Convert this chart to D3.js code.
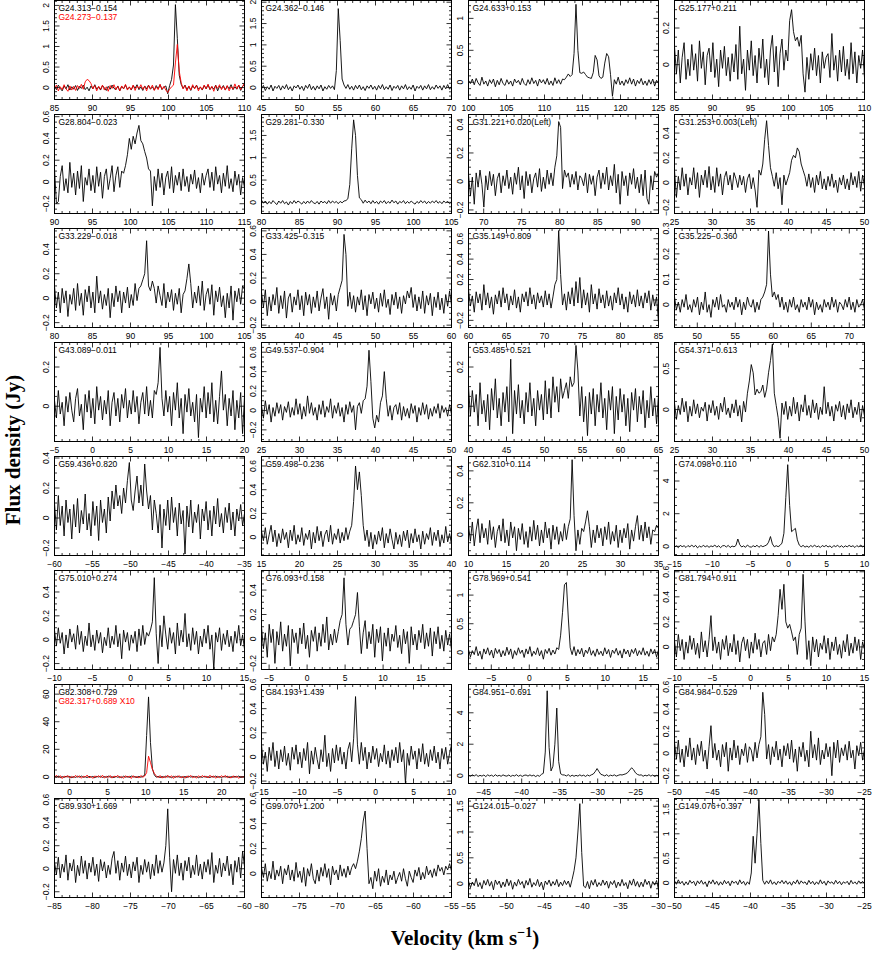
<!DOCTYPE html>
<html>
<head>
<meta charset="utf-8">
<script src="https://cdn.jsdelivr.net/npm/d3@7"></script>
<style>
body { margin: 0; background: #fff; }
svg text { font-family: "Liberation Sans", Arial, sans-serif; }
</style>
</head>
<body>
<script>
// source names, one per panel (row by row)
const names = [
    "G24.313−0.154", "G24.362−0.146", "G24.633+0.153", "G25.177+0.211",
    "G28.804−0.023", "G29.281−0.330", "G31.221+0.020(Left)", "G31.253+0.003(Left)",
    "G33.229−0.018", "G33.425−0.315", "G35.149+0.809", "G35.225−0.360",
    "G43.089−0.011", "G49.537−0.904", "G53.485+0.521", "G54.371−0.613",
    "G59.436+0.820", "G59.498−0.236", "G62.310+0.114", "G74.098+0.110",
    "G75.010+0.274", "G76.093+0.158", "G78.969+0.541", "G81.794+0.911",
    "G82.308+0.729", "G84.193+1.439", "G84.951−0.691", "G84.984−0.529",
    "G89.930+1.669", "G99.070+1.200", "G124.015−0.027", "G149.076+0.397"
];

// velocity range of each spectrum (km/s)
const velRanges = [
    [85, 110], [45, 70], [100, 125], [85, 110],
    [90, 115], [80, 105], [68, 93], [25, 50],
    [80, 105], [35, 60], [60, 85], [47, 72],
    [-5, 20], [25, 50], [40, 65], [25, 50],
    [-60, -35], [15, 40], [10, 35], [-15, 10],
    [-10, 15], [-6, 19], [-8, 17], [-10, 15],
    [-2, 23], [-15, 10], [-47, -22], [-50, -25],
    [-85, -60], [-80, -55], [-55, -30], [-50, -25]
];

// flux axis range (Jy) and major tick step
const fluxRanges = [
    [-0.29, 2.12], [-0.28, 2.04], [-0.27, 1.28], [-0.19, 0.35],
    [-0.29, 0.62], [-0.25, 1.97], [-0.225, 0.47], [-0.25, 0.55],
    [-0.24, 0.57], [-0.22, 0.62], [-0.27, 0.70], [-0.09, 0.30],
    [-0.18, 0.325], [-0.32, 0.70], [-0.18, 0.325], [-0.39, 0.82],
    [-0.25, 0.41], [-0.155, 0.68], [-0.13, 0.49], [-0.56, 5.5],
    [-0.25, 0.58], [-0.25, 0.56], [-0.3, 1.43], [-0.18, 0.61],
    [-4.8, 67], [-0.22, 0.6], [-0.5, 5.8], [-0.27, 0.62],
    [-0.25, 0.61], [-0.19, 0.6], [-0.27, 1.65], [-0.3, 1.72]
];
const yTickSteps = [
    0.5, 0.5, 0.5, 0.2,
    0.2, 0.5, 0.2, 0.2,
    0.2, 0.2, 0.2, 0.1,
    0.2, 0.2, 0.2, 0.5,
    0.2, 0.2, 0.2, 2,
    0.2, 0.2, 0.5, 0.2,
    20, 0.2, 2, 0.2,
    0.2, 0.2, 0.5, 0.5
];

// spectra, flux in units of 0.01 Jy, channels spread evenly over velRanges
const g24_313 = [3,-5,6,-2,-8,4,-3,7,-6,2, -4,5,-7,3,-2,6,-5,1,-8,4, -3,7,-4,2,-6,5,-1,-7,3,-4, 6,-2,-5,4,-8,3,-3,6,-4,1, -6,5,-2,7,-5,2,-7,4,-3,6, -4,2,-6,5,-3,7,-5,1,4,-15, 5,20,55,202,120,30,8,-2,6,-5, 3,-7,4,-2,6,-4,1,-6,5,-3, 7,-5,2,-4,6,-8,3,-2,5,-6, 4,-3,7,-5,2,-4,6,-7,3,8];
const g24_273 = [-4,6,-8,2,-5,7,-3,-9,4,-6, 3,-7,5,-2,8,-4,14,20,17,10, -3,5,-8,3,-4,6,-6,2,-9,5, -2,7,-5,3,-8,4,-3,8,-6,2, -5,6,-7,4,-2,7,-4,3,-8,5, -3,6,-7,2,-5,8,-4,3,-6,-12, -4,2,6,60,105,40,12,-3,5,-8, 4,-6,7,-3,5,-8,2,-5,6,-3, 8,-4,3,-9,5,-2,7,-5,3,-6, 5,-8,2,-4,9,-3,6,-5,2,12];
const g24_362 = [-3,5,-7,2,-4,6,-8,3,-2,5, -6,4,-3,7,-5,2,-8,4,-1,6, -4,3,-7,5,-2,8,-5,3,-6,4, -3,6,-8,2,-4,5,-2,4,-5,40, 185,110,20,6,-2,7,-4,3,-6,5, -3,6,-5,2,-7,4,-2,6,-4,3, -6,5,-3,7,-5,2,-4,6,-7,3, -2,5,-6,4,-3,7,-5,2,-4,6, -8,3,-2,5,-6,4,-3,7,-5,2, -4,6,-2,4,-6,5,-3,7,-4,3];
const g24_633 = [3,-2,5,-4,6,-1,-5,8,-3,2, -6,4,-2,5,-7,3,-4,6,-2,-5, 4,-3,2,-6,5,-1,3,-4,6,-2, -5,4,-3,7,-2,3,-6,5,-1,4, -3,6,-4,2,-5,7,-2,4,-3,5, 4,8,13,9,12,45,122,50,15,14, 16,12,8,7,6,15,42,35,10,6, 8,30,45,40,12,-22,4,-3,8,-4, 2,-5,4,-2,7,-3,5,-6,3,-2, 6,-4,2,-5,4,-3,5,-6,3,-2];
const g25_177 = [10,-5,8,-10,4,12,-8,3,-6,11, -3,6,-9,13,-2,7,-11,5,9,-4, 12,-7,3,-12,8,-2,10,-6,4,-9, 6,-4,11,-8,21,-5,3,-14,8,-3, 13,-6,5,-10,9,-2,14,-7,3,-11, 8,16,-4,10,-12,6,14,-3,8,2, 24,30,18,13,15,10,16,-5,-15,4, -8,6,-3,9,-6,5,-10,7,-2,4, 6,-7,17,-3,5,-9,8,-4,10,-6, 3,-8,12,-5,7,-10,5,-2,8,-7];
const g28_804 = [12,-20,-18,5,15,-8,3,-10,18,-5, 8,-12,10,-6,15,-18,4,-3,12,-8, 6,-10,14,-4,9,-15,5,12,-7,3, 15,-9,6,14,-5,10,8,15,25,40, 30,42,35,45,52,38,35,28,22,12, 10,-22,5,-8,12,-5,8,-12,4,10, -6,14,-10,6,-3,9,-8,12,-4,5, -9,7,-2,11,-6,4,-10,8,-3,6, 12,-5,9,-8,14,-2,6,-10,8,-4, 15,-6,3,-9,10,-3,7,-12,4,-5];
const g29_281 = [5,-2,3,-4,2,-3,4,-1,-5,3, -2,4,-3,1,-6,2,-3,4,-2,3, 0,-4,2,-3,3,-2,4,-1,-3,2, -4,3,-1,2,-3,4,-2,3,-1,2, -3,2,-1,3,4,8,40,120,185,150, 60,10,6,-2,5,-1,3,-3,4,-2, 2,-4,3,-1,4,-3,2,-2,5,-1, 3,-4,2,-1,4,-3,2,-2,3,-1, -4,2,-2,4,-1,3,-3,2,-2,3, -1,4,-2,2,-3,3,-1,2,-3,1];
const g31_221 = [5,-10,3,-16,6,-4,8,-2,-18,4, -6,7,-3,5,-10,2,6,-8,4,-3, 8,-5,3,-9,6,-2,10,-6,4,-12, 7,-3,5,-8,2,6,-4,9,-7,3, -5,8,-2,6,-3,10,18,42,38,-5, 8,3,6,-4,5,-2,7,-6,4,2, -3,6,-8,5,-2,4,-10,3,8,-5, 6,-2,10,-6,4,-3,12,-8,5,-16, 7,-3,4,-10,6,-2,9,-5,3,-8, 5,-10,8,-12,-16,4,-6,7,3,6];
const g31_253 = [10,-12,5,-6,12,-3,7,-10,4,-2, 12,-5,8,-12,6,-2,10,-4,13,-6, 5,-8,12,-3,7,-10,4,9,-2,6, -6,8,3,-4,6,-2,5,-8,3,7, -5,4,-6,-20,10,6,15,35,50,30, 12,5,-3,8,-5,4,-18,6,-2,3, 8,18,22,20,28,25,15,10,5,-3, 7,-4,4,-8,6,-2,9,-5,3,-6, 5,-3,7,-4,2,-8,4,-2,6,-5, 3,-6,8,-2,5,-4,9,-7,6,-3];
const g33_229 = [10,-8,5,-12,8,-4,6,-15,3,-5, 8,-10,12,-6,4,-14,7,-3,10,-8, 5,-12,18,-4,6,-9,3,-6,8,-16, 4,-7,10,-3,6,-12,5,-4,9,-8, 3,-6,12,-2,8,10,15,20,47,10, 6,14,8,-4,10,2,-6,12,-8,5, -3,7,-10,4,-5,8,-12,3,6,16, 28,12,-8,5,-4,10,-6,14,-10,3, 8,-5,11,-14,6,-3,9,-7,2,-16, 4,-8,10,-18,6,-3,8,-5,10,7];
const g33_425 = [8,-5,10,-12,4,-8,6,-3,12,-10, 5,-6,9,-14,3,7,-9,4,-3,10, -7,5,-12,8,-3,6,-10,4,-5,9, -8,3,11,-6,4,-15,7,-3,5,-8, 6,12,18,57,40,-4,8,-6,5,-9, 4,-3,10,-7,5,-12,6,-2,8,-6, 3,-9,7,-4,10,-5,2,-11,6,-3, 8,-6,4,-10,5,-2,9,3,12,-5, 6,-8,4,-6,9,-10,5,-3,7,-12, 4,-5,8,-7,3,-10,6,-4,9,-3];
const g35_149 = [10,-6,4,-12,8,-3,6,-10,15,-5, 7,-8,3,-14,5,-4,9,-7,12,-3, 6,-10,4,-5,10,-8,3,-12,6,-2, 8,-6,12,-4,5,-9,7,-3,4,-7, 9,-5,6,-8,3,15,20,68,25,-5, 6,-10,8,-4,12,-6,18,-3,22,-8, 10,-5,7,-12,15,-4,6,-9,11,-3, 5,-8,9,-6,4,-10,7,-3,12,-5, 6,-9,3,-12,8,-4,5,-7,10,-6, 4,-8,7,-3,9,-10,5,-6,3,-22];
const g35_225 = [3,-2,1,-3,2,-1,4,-2,0,-3, 2,-1,3,-4,1,-2,5,-3,0,-5, 2,-1,3,-2,4,-1,0,-3,2,-1, 1,-2,3,-1,2,-4,1,-2,3,0, -1,2,-3,1,-2,2,3,5,8,29, 12,3,5,2,4,-1,3,-2,1,-3, 2,-1,3,-2,0,-3,2,-1,1,-2, 3,-1,2,-4,1,-2,0,-3,2,-1, 1,-2,3,-1,2,-3,1,0,-2,2, -1,3,-2,1,-3,2,-1,0,2,-2];
const g43_089 = [3,-6,8,-4,2,-10,5,-3,7,-2, -8,4,9,-5,1,-12,6,-3,8,-6, 4,-9,10,-2,5,-7,3,-4,8,-10, 2,7,-5,4,-8,6,-1,9,-6,3, -4,8,-3,5,-9,2,7,-4,10,-5, 3,-6,8,6,12,30,4,-5,8,-3, 5,-10,7,-2,12,-6,4,-14,6,-3, 9,-5,2,-8,6,-16,4,-3,10,-6, 7,-4,12,-8,3,-9,5,18,-2,6, -10,4,-5,8,-12,3,-6,7,-14,5];
const g49_537 = [5,-8,10,-4,6,-12,3,-6,8,-3, 6,-10,4,-2,9,-7,3,-5,12,-4, 7,-9,4,-6,15,-3,8,-5,3,-10, 6,-4,10,-7,4,-2,12,-8,5,-3, 8,-6,3,-12,6,-4,9,-2,5,-20, 4,8,-3,10,12,25,62,30,-8,-18, -5,-12,8,15,40,12,-6,5,-10,3, 6,-4,8,-10,4,-6,2,-8,7,-3, 5,-12,3,-5,8,-4,6,-9,2,-6, 4,-3,7,-8,5,-2,3,-6,6,-4];
const g53_485 = [10,-5,8,-3,6,-10,12,-4,3,-8, 6,-12,9,-2,14,-6,4,-10,7,-3, 10,-8,24,-14,8,-4,11,-6,3,-9, 7,-3,12,-5,4,-10,8,-2,6,-7, 13,-4,9,-6,15,2,10,-3,14,4, 8,12,4,15,10,12,31,18,-5,10, -8,5,-15,7,-4,9,-10,6,-3,12, -6,4,-12,8,-2,10,-14,5,-7,9, -3,6,-10,4,-13,7,-2,9,-8,5, -4,8,-11,3,-6,10,-5,4,-9,6];
const g54_371 = [8,-12,5,-6,14,-3,10,-15,4,-8, 12,-5,7,-10,3,-2,9,-14,6,-4, 11,-7,4,-12,8,-3,15,-6,2,-10, 7,-4,12,-8,5,-15,10,-3,20,35, 55,45,18,25,20,22,30,15,25,45, 60,80,20,5,-10,-35,8,-6,10,-12, 4,-8,15,-5,9,-14,6,-3,18,-7, 5,-10,12,-4,8,-12,3,-6,28,-5, 9,-8,4,-14,6,-2,10,-9,5,-12, 7,-4,12,-10,3,-6,9,-15,5,-8];
const g59_436 = [10,-8,15,-5,8,-12,12,-3,6,-14, 9,-6,13,-10,5,-4,16,-8,3,-12, 11,-5,8,-15,12,-3,6,-10,14,-2, 18,6,22,8,15,3,20,10,25,37, 12,5,18,28,10,22,8,36,18,6, 15,-8,12,3,-10,9,-20,6,-5,12, -8,14,-3,7,-12,10,-4,5,-24,8, -6,12,-10,4,-3,9,-14,6,-2,11, -8,5,-12,8,-4,13,-6,3,-10,7, -3,10,-8,4,-12,6,-2,9,-5,3];
const g59_498 = [5,-3,8,-6,2,10,-4,6,-8,3, -5,7,-2,4,-9,6,-3,10,-6,2, -4,8,-7,3,-2,6,-10,4,-5,9, -3,5,-8,2,6,-4,10,-6,3,-2, 7,-5,4,-3,8,-2,5,10,30,60, 40,55,35,10,-3,6,-8,4,-10,2, -6,5,-3,8,-9,3,-5,7,-2,-10, 4,-6,2,-8,5,-3,6,-9,3,-5, 7,-4,2,-10,5,-6,3,-2,8,-7, 4,-3,6,-8,2,-5,9,-4,3,-6];
const g62_310 = [6,-4,8,-7,3,10,-5,7,-2,4, -6,9,-3,5,-8,2,6,-4,10,-5, 3,-7,8,-2,5,-10,4,-3,7,-6, 2,-8,5,-4,9,-3,6,-7,3,-5, 8,-2,4,-9,6,-3,5,-6,2,-4, 7,-3,5,10,47,12,-10,3,-6,4, 2,8,15,5,-8,3,-5,6,-2,4, -7,5,-3,8,-6,2,-4,6,-8,3, -5,4,-2,7,-9,3,-4,5,12,-3, 6,-4,8,-2,5,-6,3,2,6,4];
const g74_098 = [-5,3,-8,6,-2,4,-7,5,-3,8, -4,6,-9,2,-5,7,-3,4,-6,3, -2,8,-5,4,-8,3,5,-4,6,-7, 2,-3,5,45,10,-4,3,-6,8,-2, -5,4,-3,7,-6,5,-2,3,8,25, 60,15,-3,4,-2,6,20,80,300,500, 250,90,100,110,40,8,-3,6,-5,2, -6,5,-3,8,-4,2,-7,5,-2,6, -4,3,-8,5,-2,7,-5,4,-6,3, -3,6,-2,4,-7,5,-4,8,-3,2];
const g75_010 = [8,-5,10,-3,6,-12,4,-7,9,-2, 5,-8,12,-4,7,-10,3,-5,14,-6, 4,-9,8,-3,6,-11,2,-5,10,-7, 3,-4,12,-6,5,-16,8,-2,6,-9, 4,-3,7,-10,9,-5,12,-4,6,3, 8,15,52,5,-20,12,-6,20,4,-8, 10,-3,6,-12,14,-5,8,-2,22,-6, 5,-9,10,-4,7,-12,3,-6,9,-3, 12,-8,4,-25,6,-2,10,-9,5,-4, 8,-6,3,-10,7,-3,12,-5,4,-8];
const g76_093 = [10,-8,5,-15,12,-3,8,-20,6,-5, 14,-10,4,-6,11,-22,8,-3,5,-12, 9,-4,13,-8,3,-15,7,-2,10,-10, 5,-6,12,-3,18,-9,4,-5,8,-3, 6,15,20,50,12,-5,8,10,15,20, 38,10,-12,5,15,-8,6,-4,12,-15, 8,-3,10,-18,5,-6,9,-10,4,-2, 11,-7,3,-12,8,-4,6,-20,10,-5, 4,-9,7,-3,12,-8,5,-6,9,-14, 6,-4,10,-8,3,-10,7,-5,4,-9];
const g78_969 = [5,-8,3,-4,10,-6,2,-12,6,-3, 8,-5,4,-10,7,-2,5,-8,3,-6, 9,-4,6,-11,3,-5,8,-2,4,-9, 6,-3,10,-7,2,-4,8,-6,3,-12, 5,-2,7,-5,4,-3,8,5,30,70, 118,122,60,8,-4,10,-6,5,-3,7, -8,4,-2,9,-5,3,-7,6,-4,2, -6,8,-3,5,-9,4,-2,7,-5,3, -10,6,-3,4,-8,5,-2,7,-6,3, -4,8,-5,2,-7,6,-3,5,-8,4];
const g81_794 = [5,-8,10,-3,6,-10,4,-5,9,-2, 7,-6,3,-9,12,-4,5,-8,6,25, -3,8,-5,4,-10,6,-2,9,-7,3, -4,10,-6,5,-12,3,8,-3,6,-9, 4,-5,11,-2,6,-8,3,5,-6,10, -3,8,4,10,25,46,30,50,20,15, 18,12,5,8,-6,10,15,58,20,-10, 5,-15,8,-4,6,-8,3,-2,9,-5, 7,-10,4,-3,8,-6,2,-9,5,-4, 10,-7,3,-5,8,-3,6,-10,4,-2];
const g82_308 = [40,-30,60,-50,20,-40,50,-10,30,-60, 20,-40,50,-20,60,-30,10,-50,40,-20, 30,-60,40,-10,50,-40,20,-30,60,-20, 10,-50,40,-30,20,-60,50,-20,30,-40, 60,-10,20,-50,40,-30,50,100,3000,5800, 2500,600,150,-20,40,-50,30,-40,60,-10, 20,-60,40,-30,50,-20,10,-40,30,-50, 60,-20,40,-10,30,-60,20,-40,50,-30, 10,-50,40,-20,60,-30,20,-40,30,-10, 50,-60,20,-30,40,-20,60,-40,10,-30];
const g82_317x10 = [-80,120,-50,90,-120,60,-30,100,-90,40, -60,110,-40,80,-100,50,-20,130,-70,30, -110,70,-30,90,-60,120,-80,40,-50,100, -90,60,-20,110,-70,30,-100,80,-40,50, -120,90,-60,40,-80,100,-30,70,300,1500, 1050,550,250,80,-60,100,-90,40,-70,120, -50,80,-110,60,-30,90,-80,50,-100,70, -40,110,-60,30,-90,80,-50,100,-20,60, -80,120,-40,70,-100,50,-60,90,-30,110, -70,40,-90,80,-50,60,-110,30,-40,90];
const g84_193 = [10,-6,4,-12,8,-3,12,-8,5,-10, 6,-4,9,-7,3,-11,8,-2,10,-6, 4,-9,7,-3,12,-14,5,-6,8,-2, -10,6,-4,18,-8,3,-12,7,-5,10, -3,8,-6,4,-10,6,12,-4,15,50, 10,-6,12,-3,8,-10,4,-5,9,-2, 7,-8,3,-4,10,-6,5,-9,6,-3, 8,-5,12,-4,6,-22,3,-7,9,-2, 5,-10,7,-4,11,-6,3,-8,6,-3, 9,-5,4,-10,7,-2,8,-6,3,10];
const g84_951 = [3,-4,5,-2,6,-5,2,-3,4,-6, 5,-2,3,-5,6,-3,2,-4,5,-1, -3,4,-5,2,-2,6,-4,3,-5,2, 4,-3,5,-2,3,-6,2,-4,8,15, 150,540,180,30,60,200,430,90,12,5, 4,-2,6,-5,3,-4,2,-3,5,-2, 3,-5,4,-2,5,10,25,45,25,8, 4,-2,6,-4,3,-1,5,-3,2,6, 4,8,12,20,35,50,38,18,8,3, 5,-4,3,-2,6,-3,4,-5,2,-3];
const g84_984 = [10,-5,12,-8,4,-12,7,-3,14,-6, 5,-10,8,-2,11,-7,3,-14,6,25, -4,9,-6,3,-12,8,-3,10,-16,5, -6,12,-4,7,-10,4,-2,9,-8,6, 3,-7,10,-4,8,15,55,35,-5,8, -10,6,-3,11,-6,4,-12,7,-2,9, -5,12,-8,4,-16,6,-3,10,-7,3, -12,20,-4,8,-6,14,-10,3,-5,9, -3,6,-20,10,-4,12,-8,5,-2,8, -6,11,-4,3,-14,7,-2,10,-6,4];
const g89_930 = [6,-5,10,-8,4,-3,12,-10,5,-2, 8,-12,3,-6,11,-4,7,-9,5,-3, 10,-6,4,-11,8,-2,6,-8,3,-5, 9,15,-4,7,-10,5,-3,11,-6,4, -8,6,-2,10,-12,3,-5,8,-3,6, -9,4,-6,12,-4,7,-3,5,20,52, 10,-20,8,-4,12,-6,5,-10,7,-2, 10,-8,3,-5,12,-6,4,-9,6,-3, 8,-5,14,-12,3,-4,9,-7,5,-2, 11,-6,4,-14,7,-3,10,-8,15,2];
const g99_070 = [5,-3,8,-6,2,-4,10,-5,3,-2, 6,-8,4,-1,7,-5,3,-6,9,-3, 2,-7,5,-10,4,-2,8,-4,-8,3, -6,5,-2,8,-3,4,-9,6,-1,3, -5,7,-2,4,-3,6,-1,5,8,4, 10,18,28,42,50,20,-8,-3,-12,2, -6,4,-10,-2,-7,3,-9,-1,-5,2, -8,-3,1,-6,4,-4,-10,2,-3,-7, 3,-2,5,-5,1,-4,6,-1,3,-3, 4,-2,7,2,5,-1,6,3,8,2];
const g124_015 = [5,-8,3,-4,10,-6,2,-10,6,-3, 8,-5,4,-12,7,-2,5,-8,3,-6, 9,-4,6,-11,3,-5,8,-2,4,-9, 6,-3,10,-7,2,-4,8,-6,3,-12, 5,-2,7,-5,4,-3,8,-6,3,-4, 6,-2,5,-7,8,25,50,100,155,60, -5,-8,4,-10,6,-3,8,-6,2,-4, 7,-3,5,-9,4,-2,6,-8,3,-5, 8,-4,2,-10,6,-3,9,-5,4,-7, 3,-6,8,-2,5,-9,4,-3,6,-12];
const g149_076 = [4,-3,6,-2,3,-5,2,-4,5,-1, 3,-6,4,-2,5,-3,2,-8,4,-2, 6,-3,3,-5,2,-4,5,-2,3,-6, 4,-1,3,-4,6,-2,3,-5,2,-3, 20,95,40,100,170,80,5,-3,4,-2, 6,-3,2,-4,3,-1,5,-2,4,-3, 2,-5,3,-2,6,-3,4,-1,2,-4, 5,-2,3,-4,2,-3,6,-2,3,-5, 4,-1,2,-3,5,-2,3,-4,2,-1, 3,-4,5,-2,2,-3,4,-1,3,-2];

const spectra = [
    g24_313, g24_362, g24_633, g25_177,
    g28_804, g29_281, g31_221, g31_253,
    g33_229, g33_425, g35_149, g35_225,
    g43_089, g49_537, g53_485, g54_371,
    g59_436, g59_498, g62_310, g74_098,
    g75_010, g76_093, g78_969, g81_794,
    g82_308, g84_193, g84_951, g84_984,
    g89_930, g99_070, g124_015, g149_076
];

// red overlays: panel index, label, spectrum
const overlays = [
    { panel: 0, label: "G24.273−0.137", values: g24_273 },
    { panel: 24, label: "G82.317+0.689  X10", values: g82_317x10 }
];

const width = 872, height = 959,
    colLeft = [54.5, 261.5, 468.5, 674.5],
    pw = 190, ph = 99, rowPitch = 114;

const svg = d3.select("body").append("svg")
    .attr("width", width)
    .attr("height", height);

const fmt = v => String(+v.toFixed(3)).replace("-", "−");

const tickValues = (lo, hi, step) => {
    let out = [];
    for (let i = Math.ceil(lo / step - 1e-9); i * step <= hi + 1e-9; i++) out.push(+(i * step).toFixed(6));
    return out;
};

names.forEach((name, k) => {
    const r = Math.floor(k / 4), c = k % 4,
        left = colLeft[c], top = r * rowPitch + 0.5,
        [v0, v1] = velRanges[k],
        [f0, f1] = fluxRanges[k];

    const x = d3.scaleLinear().domain([v0, v1]).range([left, left + pw]),
        y = d3.scaleLinear().domain([f0, f1]).range([top + ph, top]);

    const g = svg.append("g");

    g.append("clipPath").attr("id", "clip" + k)
        .append("rect").attr("x", left).attr("y", top).attr("width", pw).attr("height", ph);

    const line = vals => d3.line()
        .x((d, i) => x(v0 + i * (v1 - v0) / (vals.length - 1)))
        .y(d => y(d * 0.01))(vals);

    g.append("path")
        .attr("d", line(spectra[k]))
        .attr("clip-path", "url(#clip" + k + ")")
        .attr("fill", "none")
        .attr("stroke", "#000")
        .attr("stroke-width", 0.9)
        .attr("stroke-linejoin", "round");

    overlays.filter(o => o.panel === k).forEach(o => {
        g.append("path")
            .attr("d", line(o.values))
            .attr("clip-path", "url(#clip" + k + ")")
            .attr("fill", "none")
            .attr("stroke", "#ff0000")
            .attr("stroke-width", 0.9);
        g.append("text")
            .attr("x", left + 4).attr("y", top + 19)
            .attr("font-size", 8.5).attr("fill", "#ff0000")
            .text(o.label);
    });

    // frame
    g.append("rect")
        .attr("x", left).attr("y", top).attr("width", pw).attr("height", ph)
        .attr("fill", "none").attr("stroke", "#000").attr("stroke-width", 1);

    // x ticks (major 5, minor 1) on bottom and top
    const xMinor = tickValues(v0, v1, 1),
        xMajor = tickValues(v0, v1, 5);
    xMinor.forEach(v => {
        const isMaj = xMajor.includes(v), len = isMaj ? 5 : 2.5;
        g.append("line").attr("x1", x(v)).attr("x2", x(v))
            .attr("y1", top + ph).attr("y2", top + ph - len).attr("stroke", "#000").attr("stroke-width", 0.8);
        g.append("line").attr("x1", x(v)).attr("x2", x(v))
            .attr("y1", top).attr("y2", top + len).attr("stroke", "#000").attr("stroke-width", 0.8);
    });
    g.selectAll(".xl").data(xMajor).enter().append("text")
        .attr("x", d => x(d)).attr("y", top + ph + 11)
        .attr("text-anchor", "middle").attr("font-size", 8.5)
        .text(fmt);

    // y ticks on left and right
    const step = yTickSteps[k],
        nSub = String(step).replace(/[0.]/g, "").charAt(0) === "2" ? 4 : 5,
        yMajor = tickValues(f0, f1, step),
        yMinor = tickValues(f0, f1, step / nSub);
    yMinor.forEach(v => {
        const isMaj = yMajor.some(m => Math.abs(m - v) < 1e-6), len = isMaj ? 5 : 2.5;
        g.append("line").attr("x1", left).attr("x2", left + len)
            .attr("y1", y(v)).attr("y2", y(v)).attr("stroke", "#000").attr("stroke-width", 0.8);
        g.append("line").attr("x1", left + pw).attr("x2", left + pw - len)
            .attr("y1", y(v)).attr("y2", y(v)).attr("stroke", "#000").attr("stroke-width", 0.8);
    });
    g.selectAll(".yl").data(yMajor).enter().append("text")
        .attr("transform", d => "translate(" + (left - 6) + "," + y(d) + ") rotate(-90)")
        .attr("text-anchor", "middle").attr("font-size", 8.5)
        .text(fmt);

    // source name
    g.append("text")
        .attr("x", left + 4).attr("y", top + 10)
        .attr("font-size", 8.5)
        .text(name);
});

// axis titles
svg.append("text")
    .attr("transform", "translate(20,450) rotate(-90)")
    .attr("text-anchor", "middle")
    .style("font-family", "'Liberation Serif', 'DejaVu Serif', serif")
    .style("font-weight", "bold").style("font-size", "21px")
    .text("Flux density (Jy)");

const vt = svg.append("text")
    .attr("x", 465).attr("y", 945)
    .attr("text-anchor", "middle")
    .style("font-family", "'Liberation Serif', 'DejaVu Serif', serif")
    .style("font-weight", "bold").style("font-size", "21px");
vt.append("tspan").text("Velocity (km s");
vt.append("tspan").attr("dy", -8).style("font-size", "14px").text("−1");
vt.append("tspan").attr("dy", 8).text(")");
</script>
</body>
</html>
